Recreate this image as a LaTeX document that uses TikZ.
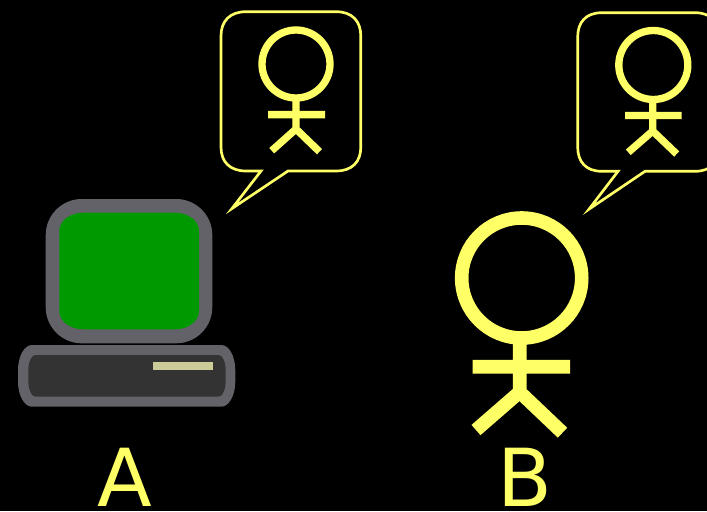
\documentclass[tikz,border=0pt]{standalone}
\usepackage{fontspec}
\setmainfont{DejaVu Sans}
\definecolor{pen}{HTML}{FFFF66}
\definecolor{casing}{HTML}{636268}
\definecolor{screen}{HTML}{009900}
\definecolor{panel}{HTML}{333333}
\definecolor{slot}{HTML}{CCCC99}
% \softbox{x0}{y0}{x1}{y1}{rx}{ry}{options}
\newcommand{\softbox}[7]{%
  \pgfmathsetmacro{\xa}{#1+#5}\pgfmathsetmacro{\xb}{#3-#5}%
  \pgfmathsetmacro{\ya}{#2+#6}\pgfmathsetmacro{\yb}{#4-#6}%
  \pgfmathsetmacro{\kx}{0.45*#5}\pgfmathsetmacro{\ky}{0.45*#6}%
  \pgfmathsetmacro{\xc}{#1+\kx}\pgfmathsetmacro{\xd}{#3-\kx}%
  \pgfmathsetmacro{\yc}{#2+\ky}\pgfmathsetmacro{\yd}{#4-\ky}%
  \fill[#7] (\xa,#2) -- (\xb,#2) .. controls (\xd,#2) and (#3,\yc) .. (#3,\ya)
    -- (#3,\yb) .. controls (#3,\yd) and (\xd,#4) .. (\xb,#4)
    -- (\xa,#4) .. controls (\xc,#4) and (#1,\yd) .. (#1,\yb)
    -- (#1,\ya) .. controls (#1,\yc) and (\xc,#2) .. (\xa,#2) -- cycle;}
\tikzset{
  lettering/.style={text=pen,font=\fontsize{60}{60}\selectfont,inner sep=0pt,anchor=base},
  bubble/.style={draw=pen,line width=2pt,miter limit=20,line join=miter},
  smallman/.style={draw=pen,line width=5.5pt},
  bigman/.style={draw=pen,line width=10.2pt},
}
\begin{document}
\begin{tikzpicture}[x=0.75pt,y=-0.75pt]
\useasboundingbox (0,0) rectangle (707,511);
\fill[black] (0,0) rectangle (707,511);
% computer
\softbox{45.7}{199}{212.3}{343.3}{36}{36}{casing}
\softbox{59.3}{212.7}{199}{329.3}{24}{18}{screen}
\softbox{18}{345}{235.3}{406.7}{14}{25}{casing}
\softbox{28.3}{355}{225.7}{396.7}{7}{16}{panel}
\fill[slot] (153.3,361.7) rectangle (212.7,370);
% bubble A
\draw[bubble] (246,11.7) -- (336,11.7) .. controls (352,11.7) and (360.8,21) .. (360.8,36)
  -- (360.8,147) .. controls (360.8,162) and (352,171) .. (336,171)
  -- (288,171) -- (232,208.5) -- (261,171)
  -- (246,171) .. controls (230,171) and (221,162) .. (221,147)
  -- (221,36) .. controls (221,21) and (230,11.7) .. (246,11.7) -- cycle;
% man in bubble A
\draw[smallman] (296,64) circle[radius=34];
\draw[smallman] (296,98) -- (296,132) (268,114.6) -- (325,114.6)
  (271.7,150.7) -- (296,129) -- (319.5,151.7);
% bubble B
\draw[bubble] (602,12.7) -- (695,12.7) .. controls (711,12.7) and (719,22) .. (719,37)
  -- (719,147) .. controls (719,162) and (711,171.3) .. (695,171.3)
  -- (645,171.3) -- (589,209.2) -- (618,171.3)
  -- (602,171.3) .. controls (586,171.3) and (577.7,162) .. (577.7,147)
  -- (577.7,37) .. controls (577.7,22) and (586,12.7) .. (602,12.7) -- cycle;
% man in bubble B
\draw[smallman] (653.3,65) circle[radius=34.5];
\draw[smallman] (652.7,99) -- (652.7,133) (625,115.5) -- (681.7,115.5)
  (628.3,152.3) -- (652.7,131) -- (676.7,154);
% big man
\draw[bigman] (521.7,278) circle[radius=60];
\draw[bigman] (519.7,338) -- (519.7,394) (472.7,366.7) -- (570,366.7)
  (476,430) -- (519.7,392) -- (562.5,432.7);
% labels
\node[lettering] (labelA) at (124.5,506) {A};
\node[lettering] (labelB) at (525,506) {B};
\end{tikzpicture}
\end{document}
